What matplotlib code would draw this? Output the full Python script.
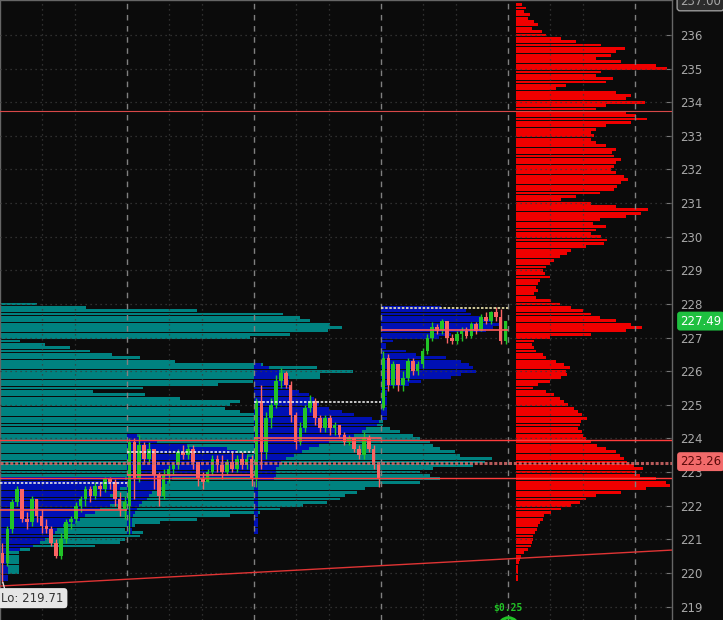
import numpy as np
import matplotlib
matplotlib.use("Agg")
import matplotlib.pyplot as plt

# session bars (26 per session), price data
day1_o = [220.6, 220.3, 221.3, 222.1, 222.5, 221.6, 221.5, 222.2, 221.7, 221.4, 221.3, 220.9, 220.5,
          221.0, 221.5, 221.6, 222.0, 222.2, 222.5, 222.3, 222.6, 222.5, 222.8, 222.7, 222.2, 221.9]
day1_h = [220.9, 221.4, 222.2, 222.6, 222.5, 221.8, 222.3, 222.2, 221.9, 221.6, 221.4, 221.0, 221.2,
          221.6, 221.7, 222.1, 222.3, 222.6, 222.6, 222.7, 222.7, 222.85, 222.85, 222.8, 222.4, 222.3]
day1_l = [219.71, 220.2, 221.2, 222.0, 221.5, 221.3, 221.4, 221.5, 221.2, 221.2, 220.8, 220.45, 220.4,
          220.9, 221.3, 221.5, 221.8, 222.0, 222.1, 222.2, 222.3, 222.4, 222.5, 222.0, 221.7, 221.6]
day1_c = [220.3, 221.3, 222.1, 222.5, 221.6, 221.5, 222.2, 221.7, 221.4, 221.3, 220.9, 220.5, 221.0,
          221.5, 221.6, 222.0, 222.2, 222.5, 222.3, 222.6, 222.5, 222.8, 222.7, 222.2, 221.9, 222.1]

day2_o = [222.0, 223.9, 222.8, 223.8, 223.4, 223.7, 222.9, 222.3, 222.9, 223.1, 223.2, 223.6, 223.5,
          223.7, 223.3, 222.8, 222.7, 223.0, 223.4, 223.2, 223.0, 223.3, 223.1, 223.4, 223.2, 223.4]
day2_h = [224.0, 224.0, 224.1, 223.9, 223.9, 223.7, 223.0, 223.1, 223.2, 223.3, 223.7, 223.8, 223.8,
          223.8, 223.3, 223.0, 223.1, 223.5, 223.5, 223.5, 223.4, 223.6, 223.5, 223.6, 223.5, 223.5]
day2_l = [221.15, 222.2, 222.7, 223.3, 223.3, 222.5, 222.0, 222.2, 222.7, 222.9, 223.1, 223.4, 223.4,
          223.1, 222.6, 222.5, 222.7, 222.9, 223.0, 222.8, 222.9, 223.0, 223.0, 223.1, 223.1, 222.6]
day2_c = [223.9, 222.8, 223.8, 223.4, 223.7, 222.9, 222.3, 222.9, 223.1, 223.2, 223.6, 223.5, 223.7,
          223.3, 222.8, 222.7, 223.0, 223.4, 223.2, 223.0, 223.3, 223.1, 223.4, 223.2, 223.4, 222.8]

day3_o = [222.8, 225.1, 223.6, 224.6, 225.0, 225.7, 225.95, 225.6, 224.7, 223.9, 224.3, 224.9, 225.1,
          224.6, 224.3, 224.6, 224.3, 224.4, 224.1, 223.9, 224.0, 223.7, 223.5, 224.0, 223.7, 223.2]
day3_h = [225.2, 225.6, 224.8, 225.2, 225.9, 226.1, 226.0, 225.7, 224.8, 224.5, 225.0, 225.3, 225.2,
          224.7, 224.7, 224.7, 224.5, 224.4, 224.2, 224.1, 224.0, 223.8, 224.2, 224.1, 223.8, 223.3]
day3_l = [222.55, 223.1, 223.4, 224.3, 224.9, 225.5, 225.5, 224.5, 223.7, 223.8, 224.2, 224.8, 224.4,
          224.2, 224.2, 224.1, 224.1, 224.0, 223.8, 223.8, 223.6, 223.4, 223.4, 223.6, 223.1, 222.55]
day3_c = [225.1, 223.6, 224.6, 225.0, 225.7, 225.95, 225.6, 224.7, 223.9, 224.3, 224.9, 225.1, 224.6,
          224.3, 224.6, 224.3, 224.4, 224.1, 223.9, 224.0, 223.7, 223.5, 224.0, 223.7, 223.2, 222.8]

day4_o = [224.9, 226.4, 225.6, 226.2, 225.6, 225.8, 226.3, 226.0, 226.2, 226.6, 227.0, 227.3, 227.2,
          227.5, 227.0, 226.9, 227.1, 227.2, 227.05, 227.4, 227.2, 227.6, 227.5, 227.75, 227.6, 226.9]
day4_h = [226.6, 226.5, 226.3, 226.2, 226.0, 226.4, 226.4, 226.3, 226.7, 227.1, 227.45, 227.4, 227.55,
          227.5, 227.1, 227.2, 227.3, 227.3, 227.45, 227.45, 227.7, 227.75, 227.8, 227.9, 227.85, 227.5]
day4_l = [224.85, 225.4, 225.5, 225.4, 225.4, 225.7, 225.9, 225.9, 226.1, 226.5, 226.9, 227.1, 227.1,
          226.85, 226.8, 226.8, 226.9, 227.0, 227.0, 227.1, 227.2, 227.4, 227.4, 227.5, 226.8, 226.8]
day4_c = [226.4, 225.6, 226.2, 225.6, 225.8, 226.3, 226.0, 226.2, 226.6, 227.0, 227.3, 227.2, 227.5,
          227.0, 226.9, 227.1, 227.2, 227.05, 227.4, 227.2, 227.6, 227.5, 227.75, 227.6, 226.9, 227.49]

# volume profiles, rows of $0.10 from the top price downwards
teal_top = 228.0
teal_vol = [37, 86, 197, 283, 300, 310, 330, 342, 328, 290,
            250, 20, 45, 70, 90, 112, 140, 175, 263, 317,
            353, 320, 320, 253, 218, 143, 93, 145, 180, 240,
            230, 225, 240, 260, 370, 383, 383, 390, 400, 413,
            420, 430, 433, 440, 455, 460, 492, 485, 473, 433,
            420, 430, 440, 420, 380, 365, 357, 345, 340, 327,
            303, 280, 260, 230, 197, 160, 135, 125, 143, 140,
            125, 120, 95, 30, 19, 19, 19, 19, 19, 19,
            19]

red_top = 236.9
red_vol = [6, 10, 8, 14, 12, 18, 22, 16, 26, 30,
           45, 60, 85, 109, 100, 95, 80, 105, 140, 151,
           85, 80, 97, 90, 50, 40, 100, 115, 110, 129,
           90, 80, 110, 120, 131, 115, 90, 80, 75, 78,
           75, 80, 90, 100, 96, 98, 105, 100, 98, 95,
           100, 108, 112, 105, 101, 98, 84, 60, 45, 75,
           100, 132, 125, 110, 84, 77, 90, 80, 75, 85,
           91, 88, 70, 55, 51, 44, 38, 34, 30, 27,
           29, 34, 24, 22, 20, 22, 18, 20, 35, 44,
           55, 67, 75, 84, 100, 115, 126, 110, 75, 34,
           18, 16, 18, 20, 27, 30, 40, 48, 54, 50,
           51, 45, 34, 22, 17, 30, 38, 44, 48, 52,
           58, 62, 66, 71, 65, 64, 62, 66, 67, 70,
           75, 81, 90, 100, 104, 108, 111, 118, 127, 120,
           124, 140, 150, 154, 130, 105, 80, 70, 64, 55,
           45, 35, 28, 27, 24, 22, 21, 19, 17, 17,
           16, 15, 12, 8, 5, 4, 3, 2, 2, 2,
           2, 2]

day_prof_top = [222.8, 224.1, 226.2, 227.9]
day1_prof = [125, 127, 127, 120, 115, 110, 127, 120, 110, 100, 95, 85, 80, 75, 63, 57,
             55, 50, 45, 40, 33, 20, 8, 8, 8, 8, 8, 8, 8, 8, 8]
day2_prof = [10, 12, 30, 60, 100, 110, 120, 125, 125, 125, 125, 125, 125, 45, 40, 35,
             30, 25, 22, 20, 15, 12, 10, 8, 6, 5, 5, 5, 5, 5]
day3_prof = [7, 15, 25, 30, 35, 35, 35, 38, 45, 55, 60, 62, 65, 75, 88, 100, 118, 125,
             123, 112, 108, 100, 92, 75, 65, 55, 48, 40, 32, 27, 25, 22, 22, 22, 20,
             4, 4, 4, 4, 4, 4, 4, 4, 4, 4, 4, 4, 4, 4, 4, 4]
day4_prof = [60, 85, 90, 100, 112, 118, 112, 105, 70, 58, 12, 5, 5, 25, 35, 65, 80, 88,
             92, 95, 80, 70, 40, 28, 8, 6, 6, 6, 6, 6, 6, 6, 6, 6]

# session levels
poc_white = [222.67, 223.6, 225.08, 227.88]
poc_red = [221.87, 222.9, 224.0, 227.23]
full_lines = [233.75, 223.95, 222.82]
last_mark = 223.26
trend = [219.61, 220.68]
last_price = 227.49
low_price = 219.71
y_ticks = list(range(219, 237))

BARS = 26
PX_BAR = 127 / BARS
XMAX = 672 / PX_BAR
BG = '#0b0b0b'

fig = plt.figure(figsize=(7.23, 6.2), dpi=100, facecolor=BG)
ax = fig.add_axes([0, 0, 672 / 723, 1])
ax.set_facecolor(BG)
ax.set_xlim(0, XMAX)
ax.set_ylim(218.60, 237.04)


def profile(top, vols, left, color, z):
    prices = top - 0.1 * np.arange(len(vols))
    ax.barh(prices, np.array(vols) / PX_BAR, left=left, height=0.085,
            color=color, linewidth=0, zorder=z)


profile(teal_top, teal_vol, 0, '#008280', 1)
for i, vols in enumerate([day1_prof, day2_prof, day3_prof, day4_prof]):
    profile(day_prof_top[i], vols, i * BARS, '#0010b4', 2)
profile(red_top, red_vol, 516 / PX_BAR, '#f00000', 2)

# grid
for p in y_ticks:
    ax.axhline(p, color='#3c3c3c', lw=0.9, dashes=(1, 3), zorder=3)
for d in range(6):
    for f in (0.33, 0.59):
        ax.axvline((d + f) * BARS, color='#3c3c3c', lw=0.9, dashes=(1, 3), zorder=3)
for d in range(1, 6):
    ax.axvline(d * BARS, color='#808080', lw=1, dashes=(4, 4), zorder=3)

# candles
opens = day1_o + day2_o + day3_o + day4_o
highs = day1_h + day2_h + day3_h + day4_h
lows = day1_l + day2_l + day3_l + day4_l
closes = day1_c + day2_c + day3_c + day4_c
xs = np.arange(len(closes)) + 0.5
for x, o, h, l, c in zip(xs, opens, highs, lows, closes):
    col = '#22c427' if c >= o else '#fa6464'
    ax.vlines(x, l, h, color=col, lw=1, zorder=5)
    ax.bar(x, max(abs(c - o), 0.03), bottom=min(o, c), width=0.74,
           color=col, linewidth=0, zorder=5)

# levels
for d in range(4):
    ax.hlines(poc_white[d], d * BARS, (d + 1) * BARS,
              color='#f0e8b0' if d == 3 else '#e8e8e8', lw=1.2,
              linestyles=(0, (1.5, 1)), zorder=6)
    ax.hlines(poc_red[d], d * BARS, (d + 1) * BARS, color='#ff5a5a', lw=1.2, zorder=6)
ax.axhline(full_lines[0], color='#d84848', lw=0.8, zorder=6)
ax.axhline(full_lines[1], color='#ff3c3c', lw=1, zorder=6)
ax.axhline(full_lines[2], color='#ff3c3c', lw=1, zorder=6)
ax.axhline(last_mark, color='#d86a6a', lw=2.2, dashes=(1, 0.6), alpha=0.85, zorder=6)
ax.plot([0, XMAX], trend, color='#e03434', lw=1, zorder=6)

# axis
for s in ['left', 'top', 'right']:
    ax.spines[s].set_color('#666666')
    ax.spines[s].set_linewidth(1)
ax.spines['bottom'].set_visible(False)
ax.set_xticks([])
ax.yaxis.tick_right()
ax.set_yticks(y_ticks)
ax.tick_params(axis='y', direction='in', length=4, color='#777777',
               labelcolor='#a8a8a8', labelsize=8.5, pad=6)

tr = ax.get_yaxis_transform()
ax.text(1.012, last_price, f'{last_price:.2f}', transform=tr, color='white', fontsize=8.5,
        va='center', ha='left', clip_on=False,
        bbox=dict(boxstyle='round,pad=0.25', fc='#1fc040', ec='none'))
ax.text(1.012, last_mark + 0.05, f'{last_mark:.2f}', transform=tr, color='#5a0a0a', fontsize=8.5,
        va='center', ha='left', clip_on=False,
        bbox=dict(boxstyle='round,pad=0.25', fc='#f26a6a', ec='none'))
ax.text(1.012, 237.0, '237.00', transform=tr, color='#a8a8a8', fontsize=8.5,
        va='center', ha='left', clip_on=False,
        bbox=dict(boxstyle='round,pad=0.25', fc='#2c2c2c', ec='#9a9a9a'))

ax.plot([0.6, 1.1], [low_price, 219.45], color='#dddddd', lw=1, zorder=7)
ax.text(0.3, 219.25, f'Lo: {low_price:.2f}', color='#333333', fontsize=8.5, va='center',
        ha='left', zorder=8, bbox=dict(boxstyle='round,pad=0.3', fc='#e6e6e6', ec='none'))

ax.text(4 * BARS, 218.95, '$0.25', color='#22c427', fontsize=7, ha='center', va='center',
        family='DejaVu Sans Mono', fontweight='bold', zorder=8)
ax.plot(4 * BARS, 218.38, 'o', ms=14, mfc='none', mec='#22c427', mew=2.2, clip_on=False, zorder=8)

fig.savefig('out.png', dpi=100, facecolor=BG)
